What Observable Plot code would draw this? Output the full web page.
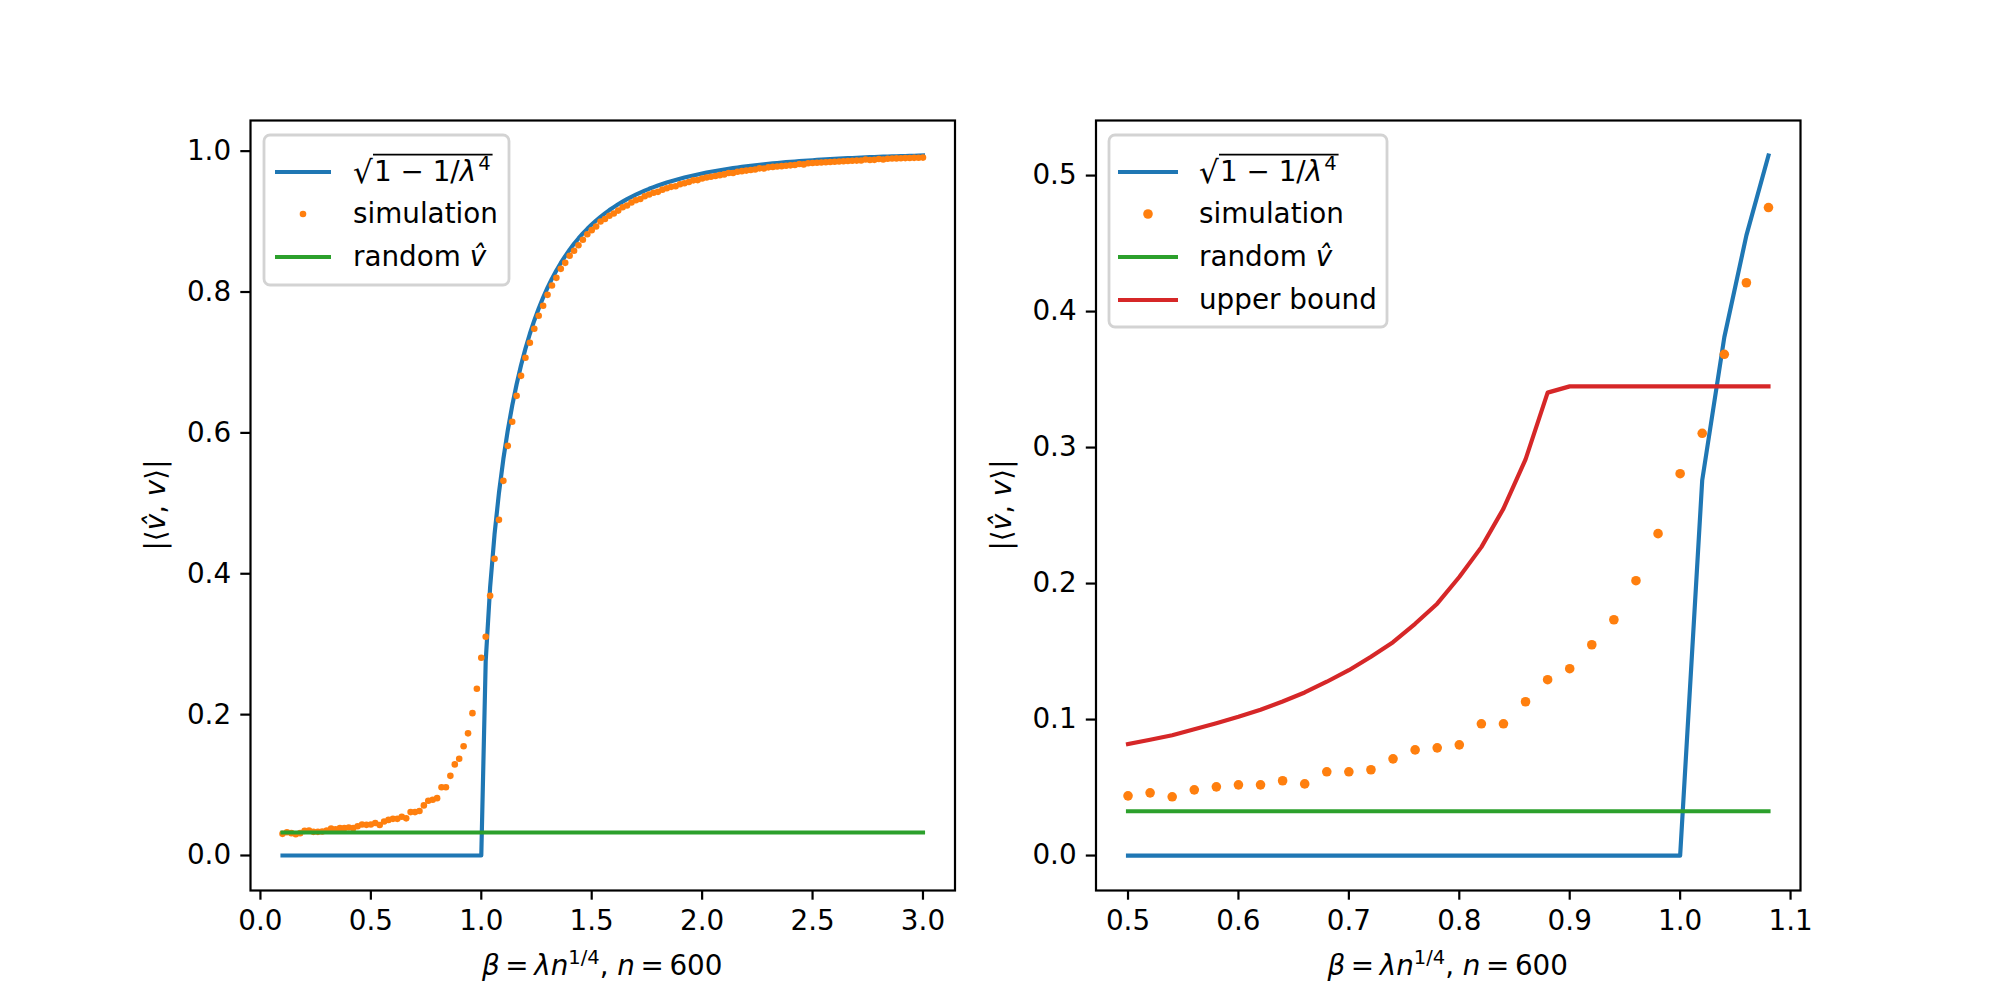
<!DOCTYPE html>
<html><head><meta charset="utf-8">
<script src="https://cdn.jsdelivr.net/npm/d3@7"></script>
<script src="https://cdn.jsdelivr.net/npm/@observablehq/plot@0.6"></script>
<style>
body{margin:0;background:#fff;}
#fig{position:relative;width:2000px;height:1000px;background:#fff;overflow:hidden;}
#fig svg{position:absolute;top:0;overflow:visible;}
</style></head><body><div id="fig"></div>
<script>
// ---------- data ----------
const betaLeft = [
0.10,0.12,0.14,0.16,0.18,0.20,0.22,0.24,0.26,0.28,0.30,0.32,0.34,0.36,0.38,0.40,0.42,0.44,0.46,0.48,
0.50,0.52,0.54,0.56,0.58,0.60,0.62,0.64,0.66,0.68,0.70,0.72,0.74,0.76,0.78,0.80,0.82,0.84,0.86,0.88,
0.90,0.92,0.94,0.96,0.98,1.00,1.02,1.04,1.06,1.08,1.10,1.12,1.14,1.16,1.18,1.20,1.22,1.24,1.26,1.28,
1.30,1.32,1.34,1.36,1.38,1.40,1.42,1.44,1.46,1.48,1.50,1.52,1.54,1.56,1.58,1.60,1.62,1.64,1.66,1.68,
1.70,1.72,1.74,1.76,1.78,1.80,1.82,1.84,1.86,1.88,1.90,1.92,1.94,1.96,1.98,2.00,2.02,2.04,2.06,2.08,
2.10,2.12,2.14,2.16,2.18,2.20,2.22,2.24,2.26,2.28,2.30,2.32,2.34,2.36,2.38,2.40,2.42,2.44,2.46,2.48,
2.50,2.52,2.54,2.56,2.58,2.60,2.62,2.64,2.66,2.68,2.70,2.72,2.74,2.76,2.78,2.80,2.82,2.84,2.86,2.88,
2.90,2.92,2.94,2.96,2.98,3.00];
const theoryLeft = [
0,0,0,0,0,0,0,0,0,0,0,0,0,0,0,0,0,0,0,0,
0,0,0,0,0,0,0,0,0,0,0,0,0,0,0,0,0,0,0,0,
0,0,0,0,0,0,
0.2760,0.3811,0.4560,0.5148,0.5630,0.6037,0.6387,0.6691,0.6959,0.7196,
0.7407,0.7596,0.7767,0.7921,0.8061,0.8189,0.8306,0.8412,0.8510,0.8600,
0.8684,0.8760,0.8831,0.8897,0.8958,0.9015,0.9068,0.9117,0.9163,0.9205,
0.9246,0.9283,0.9318,0.9351,0.9382,0.9411,0.9439,0.9465,0.9489,0.9512,
0.9533,0.9554,0.9573,0.9591,0.9609,0.9625,0.9641,0.9655,0.9669,0.9682,
0.9695,0.9707,0.9718,0.9729,0.9740,0.9749,0.9759,0.9768,0.9776,0.9784,
0.9792,0.9799,0.9806,0.9813,0.9820,0.9826,0.9832,0.9837,0.9843,0.9848,
0.9853,0.9858,0.9862,0.9867,0.9871,0.9875,0.9879,0.9883,0.9886,0.9890,
0.9893,0.9897,0.9900,0.9903,0.9906,0.9908,0.9911,0.9914,0.9916,0.9918,
0.9921,0.9923,0.9925,0.9927,0.9929,0.9931,0.9933,0.9935,0.9936,0.9938];
const simLeft = [
0.0307,0.0331,0.0317,0.0302,0.0317,0.0350,0.0355,0.0336,0.0336,0.0340,
0.0355,0.0383,0.0373,0.0388,0.0388,0.0397,0.0388,0.0416,0.0440,0.0435,
0.0439,0.0461,0.0432,0.0483,0.0505,0.0520,0.0520,0.0550,0.0527,0.0616,
0.0616,0.0631,0.0711,0.0777,0.0792,0.0814,0.0969,0.0969,0.1131,0.1293,
0.1374,0.1550,0.1734,0.2021,0.2367,0.2808,0.3105,0.3686,0.4212,0.4765,
0.5319,0.5816,0.6157,0.6526,0.6810,0.7066,0.7279,0.7478,0.7662,0.7804,
0.7960,0.8092,0.8201,0.8329,0.8414,0.8514,0.8585,0.8664,0.8741,0.8821,
0.8878,0.8930,0.9001,
0.9037,0.9083,0.9115,0.9156,0.9203,0.9228,0.9271,0.9302,0.9321,0.9359,
0.9385,0.9409,0.9422,0.9453,0.9474,0.9493,0.9501,0.9529,0.9545,0.9561,
0.9585,0.9589,0.9612,0.9625,0.9637,0.9648,0.9659,0.9670,0.9689,0.9689,
0.9708,0.9716,0.9724,0.9732,0.9739,0.9756,0.9753,0.9770,0.9776,0.9782,
0.9787,0.9793,0.9798,0.9803,0.9818,0.9812,0.9827,0.9831,0.9835,0.9839,
0.9843,0.9846,0.9850,0.9853,0.9857,0.9860,0.9863,0.9866,0.9868,0.9881,
0.9874,0.9876,0.9888,0.9881,0.9893,0.9895,0.9897,0.9899,0.9901,0.9903,
0.9905,0.9906,0.9908];
const randomLevel = 0.0326;

const betaRight = [0.50,0.52,0.54,0.56,0.58,0.60,0.62,0.64,0.66,0.68,0.70,0.72,0.74,0.76,0.78,
0.80,0.82,0.84,0.86,0.88,0.90,0.92,0.94,0.96,0.98,1.00,1.02,1.04,1.06,1.08];
const theoryRight = [0,0,0,0,0,0,0,0,0,0,0,0,0,0,0,0,0,0,0,0,0,0,0,0,0,0,0.2760,0.3811,0.4560,0.5148];
const simRight = [0.0439,0.0461,0.0432,0.0483,0.0505,0.0520,0.0520,0.0550,0.0527,0.0616,
0.0616,0.0631,0.0711,0.0777,0.0792,0.0814,0.0969,0.0969,0.1131,0.1293,
0.1374,0.1550,0.1734,0.2021,0.2367,0.2808,0.3105,0.3686,0.4212,0.4765];
const upperBound = [0.0819,0.0851,0.0885,0.0929,0.0973,0.1020,0.1072,0.1133,0.1199,0.1278,
0.1363,0.1462,0.1569,0.1704,0.1852,0.2048,0.2268,0.2551,0.2913,0.3404,
0.3450,0.3450,0.3450,0.3450,0.3450,0.3450,0.3450,0.3450,0.3450,0.3450];

const xTicksLeft = [0.0,0.5,1.0,1.5,2.0,2.5,3.0];
const yTicksLeft = [0.0,0.2,0.4,0.6,0.8,1.0];
const xTicksRight = [0.5,0.6,0.7,0.8,0.9,1.0,1.1];
const yTicksRight = [0.0,0.1,0.2,0.3,0.4,0.5];

const seriesLabels = ["theory", "simulation", "random v\u0302", "upper bound"];

// ---------- style ----------
const C = {blue:"#1f77b4", orange:"#ff7f0e", green:"#2ca02c", red:"#d62728"};
const FS = 27.8, LW = 4.17, TICK = 9.7, SPINE = 2.2;
const FONT = "'DejaVu Sans', 'Liberation Sans', sans-serif";
const TS = "\u2009";

const tableLeft = betaLeft.map((b,i)=>({beta:b, theory:theoryLeft[i], sim:simLeft[i]}));
const tableRight = betaRight.map((b,i)=>({beta:b, theory:theoryRight[i], sim:simRight[i], ub:upperBound[i]}));
const greenLeft = [betaLeft[0], betaLeft[betaLeft.length-1]].map(b=>({beta:b, v:randomLevel}));
const greenRight = [betaRight[0], betaRight[betaRight.length-1]].map(b=>({beta:b, v:randomLevel}));

const lineOpts = {strokeWidth: LW, strokeLinecap: "square", strokeLinejoin: "round"};
function axes(xt, yt) {
  return [
    Plot.axisX({ticks: xt, tickFormat: d => d.toFixed(1), tickSize: TICK, tickPadding: TICK, fontSize: FS, strokeWidth: SPINE, label: null}),
    Plot.axisY({ticks: yt, tickFormat: d => d.toFixed(1), tickSize: TICK, tickPadding: TICK, fontSize: FS, strokeWidth: SPINE, label: null}),
    Plot.frame({stroke: "black", strokeWidth: SPINE})
  ];
}
const baseStyle = {fontFamily: FONT, fontSize: FS + "px", color: "black", background: "transparent", overflow: "visible"};

const left = Plot.plot({
  width: 1000, height: 1000,
  marginLeft: 250, marginRight: 45.5, marginTop: 120, marginBottom: 110,
  style: baseStyle,
  x: {domain: [-0.045, 3.145]},
  y: {domain: [-0.0497, 1.0435]},
  marks: [
    Plot.line(tableLeft, {x: "beta", y: "theory", stroke: C.blue, ...lineOpts}),
    Plot.dot(tableLeft, {x: "beta", y: "sim", r: 3.3, fill: C.orange}),
    Plot.line(greenLeft, {x: "beta", y: "v", stroke: C.green, ...lineOpts}),
    ...axes(xTicksLeft, yTicksLeft)
  ]
});

const right = Plot.plot({
  width: 1040, height: 1000,
  marginLeft: 135.5, marginRight: 200, marginTop: 120, marginBottom: 110,
  style: baseStyle,
  x: {domain: [0.471, 1.109]},
  y: {domain: [-0.0257, 0.5405]},
  marks: [
    Plot.line(tableRight, {x: "beta", y: "theory", stroke: C.blue, ...lineOpts}),
    Plot.dot(tableRight, {x: "beta", y: "sim", r: 4.8, fill: C.orange}),
    Plot.line(greenRight, {x: "beta", y: "v", stroke: C.green, ...lineOpts}),
    Plot.line(tableRight, {x: "beta", y: "ub", stroke: C.red, ...lineOpts}),
    ...axes(xTicksRight, yTicksRight)
  ]
});

const fig = document.getElementById("fig");
left.style.left = "0px";
right.style.left = "960px";
fig.appendChild(left);
fig.appendChild(right);

// ---------- labels & legends ----------
function xLabel(svg, cx) {
  const t = d3.select(svg).append("text").attr("x", cx).attr("y", 975)
    .attr("text-anchor", "middle").attr("font-family", FONT).attr("font-size", FS).attr("fill", "black");
  t.append("tspan").attr("font-style", "italic").text("\u03b2");
  t.append("tspan").text(TS + "=" + TS);
  t.append("tspan").attr("font-style", "italic").text("\u03bbn");
  t.append("tspan").attr("font-size", 19.5).attr("dy", -11).text("1/4");
  t.append("tspan").attr("dy", 11).text(", ");
  t.append("tspan").attr("font-style", "italic").text("n");
  t.append("tspan").text(TS + "=" + TS + "600");
}
function yLabel(svg, x) {
  const t = d3.select(svg).append("text").attr("transform", `translate(${x},505) rotate(-90)`)
    .attr("text-anchor", "middle").attr("font-family", FONT).attr("font-size", FS).attr("fill", "black");
  t.append("tspan").text("|\u27e8");
  t.append("tspan").attr("font-style", "italic").text("v\u0302");
  t.append("tspan").text(", ");
  t.append("tspan").attr("font-style", "italic").text("v");
  t.append("tspan").text("\u27e9|");
}
function legend(svg, box, hx, tx, entries) {
  const g = d3.select(svg).append("g").attr("font-family", FONT).attr("font-size", FS)
    .attr("fill", "black").attr("text-anchor", "start");
  g.append("rect").attr("x", box[0]).attr("y", box[1]).attr("width", box[2]).attr("height", box[3])
    .attr("rx", 6).attr("fill", "white").attr("fill-opacity", 0.8).attr("stroke", "#d3d3d3").attr("stroke-width", 2.8);
  entries.forEach(e => {
    const base = e.row + 8.7;
    if (e.kind === "line") {
      g.append("line").attr("x1", hx[0]).attr("x2", hx[1]).attr("y1", e.row).attr("y2", e.row)
        .attr("stroke", e.color).attr("stroke-width", LW);
    } else {
      g.append("circle").attr("cx", (hx[0] + hx[1]) / 2).attr("cy", e.row).attr("r", e.r).attr("fill", e.color);
    }
    if (e.label === "theory") {
      const rad = g.append("text").attr("x", tx).attr("y", base + 2).attr("font-size", 31).text("\u221a");
      const bb = rad.node().getBBox();
      const bx = bb.x + bb.width + 1;
      const body = g.append("text").attr("x", bx).attr("y", base);
      body.append("tspan").text("1 \u2212 1/");
      body.append("tspan").attr("font-style", "italic").text("\u03bb");
      body.append("tspan").attr("font-size", 19.5).attr("dy", -11).attr("dx", 2).text("4");
      const b2 = body.node().getBBox();
      g.append("line").attr("x1", bx - 1).attr("x2", b2.x + b2.width + 2)
        .attr("y1", bb.y + 1).attr("y2", bb.y + 1).attr("stroke", "black").attr("stroke-width", 1.8);
    } else if (e.label === "random v\u0302") {
      const t = g.append("text").attr("x", tx).attr("y", base);
      t.append("tspan").text("random ");
      t.append("tspan").attr("font-style", "italic").text("v\u0302");
    } else {
      g.append("text").attr("x", tx).attr("y", base).text(e.label);
    }
  });
}

xLabel(left, 602.25);
yLabel(left, 165);
legend(left, [264, 135, 245, 150], [275, 331], 353, [
  {kind: "line", color: C.blue, label: seriesLabels[0], row: 172},
  {kind: "dot", color: C.orange, r: 3.3, label: seriesLabels[1], row: 214},
  {kind: "line", color: C.green, label: seriesLabels[2], row: 257}
]);

xLabel(right, 487.75);
yLabel(right, 50.5);
legend(right, [149, 135, 278, 192], [158, 218], 239, [
  {kind: "line", color: C.blue, label: seriesLabels[0], row: 172},
  {kind: "dot", color: C.orange, r: 4.8, label: seriesLabels[1], row: 214},
  {kind: "line", color: C.green, label: seriesLabels[2], row: 257},
  {kind: "line", color: C.red, label: seriesLabels[3], row: 300}
]);
</script></body></html>
